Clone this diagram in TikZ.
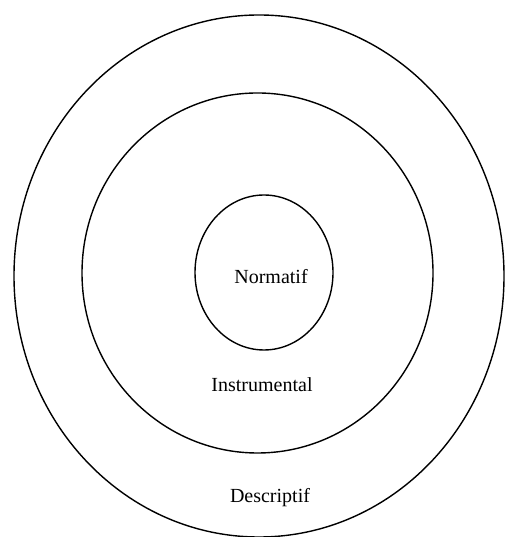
\documentclass[tikz,border=0pt]{standalone}
\usepackage{fontspec}
\setmainfont{Liberation Serif}
\usepackage{tikz}

\begin{document}
\begin{tikzpicture}[x=1pt, y=1pt, line width=1.4pt]
    \useasboundingbox (0,0) rectangle (505,537);
    \tikzset{lbl/.style={font=\fontsize{20}{24}\selectfont, inner sep=0pt}}

    \draw (259,261) ellipse (245 and 261);
    \draw (257.5,264) ellipse (175.5 and 180);
    \draw (264,264.5) ellipse (69 and 77.5);

    \node[lbl] (norm) at (271,260) {Normatif};
    \node[lbl] (instr) at (262,152) {Instrumental};
    \node[lbl] (descr) at (270,39) {Descriptif};
\end{tikzpicture}
\end{document}
